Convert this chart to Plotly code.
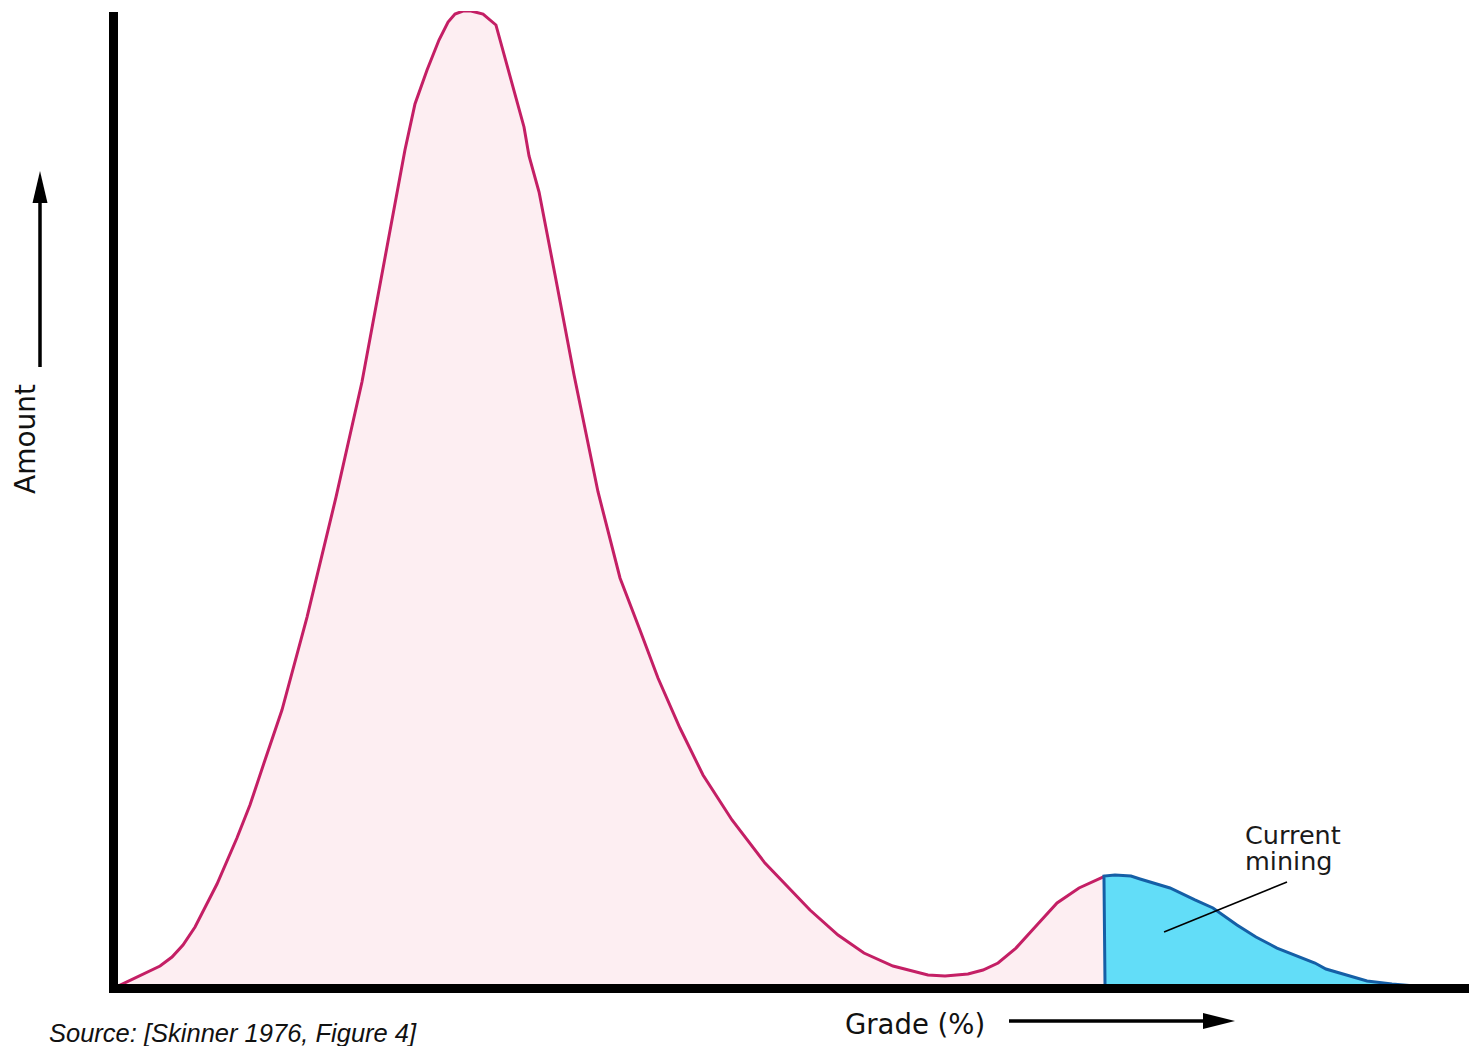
import plotly.graph_objects as go

# Data (grade in arbitrary units 0-100 along the axis, amount 0-100 relative to peak)
pink_grade = [0.37, 1.99, 3.47, 4.35, 5.16, 6.05, 7.67, 9.14, 10.10, 11.21, 12.46, 14.31,
              16.45, 18.36, 19.99, 21.53, 22.27, 23.16, 24.04, 24.71, 25.22, 25.81, 26.40,
              27.29, 28.24, 29.28, 30.31, 30.68, 31.42, 32.60, 34.00, 35.77, 37.39, 38.86,
              40.19, 41.81, 43.51, 45.65, 48.08, 51.40, 53.47, 55.38, 57.52, 60.10, 61.36,
              63.05, 64.16, 65.27, 66.59, 68.07, 69.62, 71.24, 73.16]
pink_amount = [0.2, 1.23, 2.25, 3.17, 4.40, 6.24, 10.64, 15.35, 18.73, 23.34, 28.45, 37.97,
               50.26, 62.03, 74.21, 85.77, 90.48, 93.96, 97.03, 98.87, 99.69, 100.0, 100.0,
               99.69, 98.57, 93.35, 88.13, 85.16, 81.47, 72.98, 62.74, 50.77, 41.97, 36.64,
               31.73, 26.61, 21.80, 17.20, 12.79, 7.98, 5.42, 3.58, 2.25, 1.33, 1.23,
               1.43, 1.84, 2.56, 4.09, 6.35, 8.70, 10.24, 11.46]

blue_grade = [73.16, 73.08, 73.89, 75.07, 75.74, 77.95, 79.79, 81.12, 82.89, 84.29, 85.84,
              87.54, 88.64, 89.45, 91.00, 92.48, 94.32, 96.02]
blue_amount = [0.0, 11.46, 11.57, 11.46, 11.16, 10.24, 9.01, 8.19, 6.45, 5.22, 4.09,
               3.17, 2.56, 1.94, 1.33, 0.72, 0.41, 0.2]

label_lines = ["Current", "mining"]
label_x = 83.3
label_y = [15.7, 13.05]
pointer = [(86.58, 10.85), (77.51, 5.73)]

W, H = 1469, 1046


def px(x):
    return x / W


def py(y):
    return 1 - y / H


fig = go.Figure()
fig.add_trace(go.Scatter(x=pink_grade, y=pink_amount, mode="lines", fill="tozeroy",
                         fillcolor="#FDEEF2", line=dict(color="#C41F65", width=3),
                         hoverinfo="skip", showlegend=False))
fig.add_trace(go.Scatter(x=blue_grade, y=blue_amount, mode="lines", fill="tozeroy",
                         fillcolor="#62DDF8", line=dict(color="#155FA6", width=3),
                         hoverinfo="skip", showlegend=False))

shapes = [
    # pointer line
    dict(type="line", xref="x", yref="y", x0=pointer[0][0], y0=pointer[0][1],
         x1=pointer[1][0], y1=pointer[1][1], line=dict(color="black", width=1.6)),
    # axes
    dict(type="line", xref="paper", yref="paper", x0=px(113.5), x1=px(113.5),
         y0=py(993), y1=py(12), line=dict(color="black", width=9)),
    dict(type="line", xref="paper", yref="paper", x0=px(109), x1=1.0,
         y0=py(988.5), y1=py(988.5), line=dict(color="black", width=9)),
    # vertical arrow
    dict(type="line", xref="paper", yref="paper", x0=px(40), x1=px(40),
         y0=py(367), y1=py(198), line=dict(color="black", width=3.5)),
    dict(type="path", xref="paper", yref="paper",
         path=f"M {px(40)} {py(171)} L {px(32.5)} {py(203)} L {px(47.5)} {py(203)} Z",
         fillcolor="black", line=dict(color="black", width=0)),
    # horizontal arrow
    dict(type="line", xref="paper", yref="paper", x0=px(1009), x1=px(1210),
         y0=py(1021), y1=py(1021), line=dict(color="black", width=3.5)),
    dict(type="path", xref="paper", yref="paper",
         path=f"M {px(1235)} {py(1021)} L {px(1203)} {py(1013)} L {px(1203)} {py(1029)} Z",
         fillcolor="black", line=dict(color="black", width=0)),
]

annotations = [
    dict(text=t, x=label_x, y=yy, xref="x", yref="y",
         xanchor="left", yanchor="middle", align="left", showarrow=False,
         font=dict(family="DejaVu Sans", size=25.5, color="#1a1a1a"))
    for t, yy in zip(label_lines, label_y)
] + [
    dict(text="Amount", x=px(25), y=py(439), xref="paper", yref="paper",
         textangle=-90, showarrow=False, xanchor="center", yanchor="middle",
         font=dict(family="DejaVu Sans", size=28, color="#111111")),
    dict(text="Grade (%)", x=px(915), y=py(1024), xref="paper", yref="paper",
         showarrow=False, xanchor="center", yanchor="middle",
         font=dict(family="DejaVu Sans", size=27.5, color="#111111")),
    dict(text="<i>Source: [Skinner 1976, Figure 4]</i>", x=px(47), y=py(1033),
         xref="paper", yref="paper", showarrow=False, xanchor="left", yanchor="middle",
         font=dict(family="Liberation Sans", size=25.5, color="#111111")),
]

fig.update_layout(
    width=W, height=H, autosize=False,
    margin=dict(l=0, r=0, t=0, b=0),
    paper_bgcolor="white", plot_bgcolor="white",
    xaxis=dict(domain=[113 / W, 1.0], range=[0, 100], visible=False, fixedrange=True),
    yaxis=dict(domain=[py(988), py(11)], range=[0, 100], visible=False, fixedrange=True),
    shapes=shapes, annotations=annotations, showlegend=False,
)

fig.write_html("out.html", config={"displayModeBar": False},
               post_script="document.body.style.margin='0';")
